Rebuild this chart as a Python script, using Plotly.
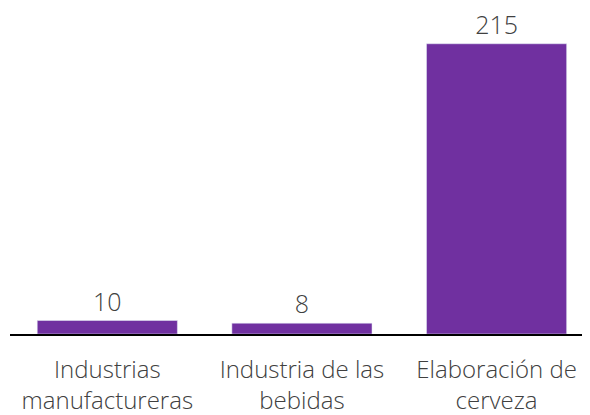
import plotly.graph_objects as go

categories = ["Industrias<br>manufactureras", "Industria de las<br>bebidas", "Elaboración de<br>cerveza"]
values = [10, 8, 215]

BAR_COLOR = "#7030A0"
TEXT_COLOR = "#404040"
FONT = "Open Sans"

fig = go.Figure(go.Bar(
    x=categories, y=values,
    marker_color=BAR_COLOR,
    text=[str(v) for v in values], textposition="outside",
    textfont=dict(size=25, color=TEXT_COLOR, family=FONT, weight=300),
    cliponaxis=False,
))

# page body adds an 8px offset, so margins are shifted to compensate
fig.update_layout(
    width=590, height=415,
    margin=dict(l=2, r=8, t=2, b=89),
    paper_bgcolor="white", plot_bgcolor="white",
    bargap=0.28,
    showlegend=False,
    font=dict(family=FONT, color=TEXT_COLOR, size=24, weight=300),
)
fig.update_xaxes(showline=True, linecolor="black", linewidth=2, ticks="",
                 tickfont=dict(size=24, color=TEXT_COLOR, family=FONT, weight=300),
                 ticklabelstandoff=13, automargin=False,
                 range=[-0.5, 2.48])
fig.update_yaxes(visible=False, range=[0, 240])

fig.write_html("out.html")
